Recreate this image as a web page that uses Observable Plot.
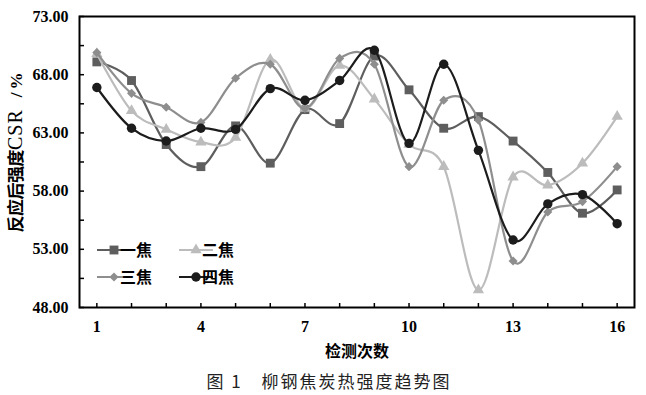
<!DOCTYPE html>
<html><head><meta charset="utf-8">
<script src="https://cdn.jsdelivr.net/npm/d3@7"></script>
<script src="https://cdn.jsdelivr.net/npm/@observablehq/plot@0.6"></script>
<style>
body{margin:0;background:#fff;width:646px;height:395px;position:relative;overflow:hidden}
#chart{position:absolute;left:0;top:0}
#caption{position:absolute;top:369px;left:6px;width:646px;text-align:center;font-family:"Noto Sans CJK SC",sans-serif;font-size:17px;letter-spacing:2px;color:#222;line-height:24px}
</style></head><body>
<div id="chart"></div>
<div id="caption">图 1　柳钢焦炭热强度趋势图</div>
<script>
// ---- data ----
const tests = [1, 2, 3, 4, 5, 6, 7, 8, 9, 10, 11, 12, 13, 14, 15, 16];
const seriesNames = ["一焦", "二焦", "三焦", "四焦"];
const jiao1 = [69.1, 67.5, 62.0, 60.1, 63.6, 60.4, 65.0, 63.8, 69.6, 66.7, 63.4, 64.4, 62.3, 59.6, 56.1, 58.1];
const jiao2 = [69.8, 64.9, 63.3, 62.2, 62.6, 69.3, 65.1, 68.8, 65.9, 62.0, 60.1, 49.5, 59.2, 58.5, 60.4, 64.4];
const jiao3 = [69.9, 66.4, 65.2, 63.9, 67.7, 68.9, 65.1, 69.4, 68.9, 60.1, 65.8, 64.1, 52.0, 56.2, 57.1, 60.1];
const jiao4 = [66.9, 63.4, 62.3, 63.4, 63.3, 66.8, 65.8, 67.5, 70.1, 62.1, 68.9, 61.5, 53.8, 56.9, 57.7, 55.2];
const yTickLabels = [48, 53, 58, 63, 68, 73];
const yMinorTicks = [48, 50.5, 53, 55.5, 58, 60.5, 63, 65.5, 68, 70.5, 73];
const xTickLabels = [1, 4, 7, 10, 13, 16];
const xAxisTitle = "检测次数";

// ---- styles ----
const allValues = [jiao1, jiao2, jiao3, jiao4];
const colors = ["#5e5e5e", "#bcbcbc", "#8e8e8e", "#1c1c1c"];
const symbols = ["square", "triangle", "diamond2", "circle"];
const radii = [5.0, 4.2, 4.1, 4.7];
const serif = '"Liberation Serif","Times New Roman",serif';
const cjk = '"Noto Sans CJK SC",sans-serif';

const rows = seriesNames.map((name, i) => tests.map((t, j) => ({series: name, test: t, value: allValues[i][j]})));

const marks = [];
rows.forEach((data, i) => {
  marks.push(Plot.line(data, {x: "test", y: "value", stroke: colors[i], strokeWidth: 2.2, curve: "cardinal"}));
  marks.push(Plot.dot(data, {x: "test", y: "value", symbol: symbols[i], r: radii[i], fill: colors[i], stroke: "none"}));
});

const chart = Plot.plot({
  width: 646,
  height: 365,
  marginLeft: 79,
  marginRight: 12,
  marginTop: 16,
  marginBottom: 58,
  style: {fontFamily: serif, fontSize: "16px", fontWeight: "bold", color: "#000", background: "#fff"},
  x: {domain: [0.5, 16.5]},
  y: {domain: [48, 73]},
  marks: [
    Plot.axisY({ticks: yMinorTicks, tickSize: -5, tickFormat: () => "", label: null, strokeWidth: 1.5}),
    Plot.axisY({ticks: yTickLabels, tickSize: 0, tickPadding: 11, tickFormat: d3.format(".2f"), label: null}),
    Plot.axisX({ticks: tests, tickSize: -4, tickFormat: () => "", label: null, strokeWidth: 1.5}),
    Plot.axisX({ticks: xTickLabels, tickSize: 0, tickPadding: 13, tickFormat: d => String(d), label: null}),
    ...marks,
    Plot.frame({stroke: "#000", strokeWidth: 2})
  ]
});
document.getElementById("chart").appendChild(chart);

const svg = d3.select(chart);

// y axis title
const yt = svg.append("text")
  .attr("transform", "translate(22,151) rotate(-90)")
  .attr("text-anchor", "middle")
  .attr("fill", "#000");
yt.append("tspan").attr("font-family", cjk).attr("font-weight", "bold").attr("font-size", "17px").attr("letter-spacing", "-0.5px").text("反应后强度");
yt.append("tspan").attr("font-family", serif).attr("font-weight", "normal").attr("font-size", "20px").attr("letter-spacing", "1px").text("CSR");
yt.append("tspan").attr("font-family", serif).attr("font-weight", "bold").attr("font-size", "17px").attr("dx", "12").attr("letter-spacing", "3px").text("/%");

// x axis title
svg.append("text")
  .attr("x", 357).attr("y", 357)
  .attr("text-anchor", "middle")
  .attr("font-family", cjk).attr("font-weight", "bold").attr("font-size", "16px")
  .attr("fill", "#000")
  .text(xAxisTitle);

// legend
const legendPos = [[97, 250], [179, 250], [97, 277], [179, 277]];
seriesNames.forEach((name, i) => {
  const [lx, ly] = legendPos[i];
  const g = svg.append("g");
  g.append("line").attr("x1", lx).attr("x2", lx + 34).attr("y1", ly).attr("y2", ly)
    .attr("stroke", colors[i]).attr("stroke-width", 2.2);
  const symType = {square: d3.symbolSquare, triangle: d3.symbolTriangle, diamond2: d3.symbolDiamond2, circle: d3.symbolCircle}[symbols[i]];
  g.append("path").attr("transform", `translate(${lx + 17},${ly})`)
    .attr("d", d3.symbol(symType, radii[i] * radii[i] * Math.PI)())
    .attr("fill", colors[i]);
  g.append("text").attr("x", lx + 39).attr("y", ly).attr("dy", "0.36em")
    .attr("font-family", cjk).attr("font-weight", "bold").attr("font-size", "16px").attr("fill", "#000")
    .text(name);
});
</script>
</body></html>
